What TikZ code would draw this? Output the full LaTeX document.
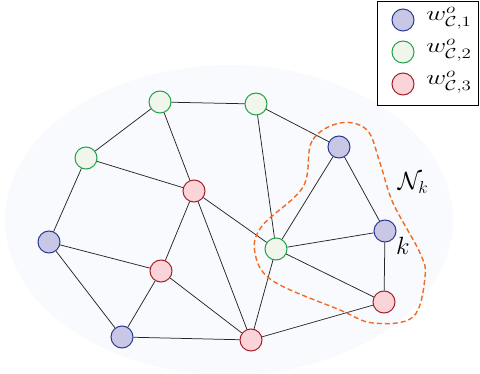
\documentclass[tikz,border=0pt]{standalone}
\usepackage{amsmath}
\definecolor{bgfill}{HTML}{F8FAFD}
\definecolor{bluefill}{HTML}{C8C8E6}
\definecolor{blueline}{HTML}{2B3990}
\definecolor{greenfill}{HTML}{F0F6EC}
\definecolor{greenline}{HTML}{22A04A}
\definecolor{redfill}{HTML}{FAD4D8}
\definecolor{redline}{HTML}{A31F2A}
\definecolor{nbhd}{HTML}{F26B21}
\begin{document}
\begin{tikzpicture}[x=1pt,y=-1pt,
  agent/.style={circle,minimum size=22pt,inner sep=0pt,line width=1pt},
  ablue/.style={agent,draw=blueline,fill=bluefill},
  agreen/.style={agent,draw=greenline,fill=greenfill},
  ared/.style={agent,draw=redline,fill=redfill},
  link/.style={line width=0.75pt,black!85},
  lbl/.style={font=\fontsize{25}{29}\selectfont,inner sep=0pt},
  leg/.style={font=\fontsize{21}{25}\selectfont,inner sep=0pt,
    anchor=base west,xscale=1.32}]
\useasboundingbox (0,0) rectangle (480,374);
% background region
\fill[bgfill] (229,220) ellipse [x radius=224pt, y radius=155pt];

% agents
\node[agreen] (g1) at (160,102) {};
\node[agreen] (g2) at (256,104) {};
\node[agreen] (g3) at (86,158) {};
\node[ared]   (r1) at (194,191) {};
\node[ablue]  (b1) at (49,242) {};
\node[ared]   (r2) at (161,271) {};
\node[ablue]  (b2) at (122,337) {};
\node[ared]   (r3) at (251,340) {};
\node[agreen] (g4) at (276,249) {};
\node[ablue]  (b3) at (339,147) {};
\node[ablue]  (b4) at (385,231) {};
\node[ared]   (r4) at (384,302) {};

% links
\foreach \a/\b in {g1/g2,g1/g3,g1/r1,g3/r1,g3/b1,b1/r2,b1/b2,r2/r1,r2/b2,r2/r3,
  r1/r3,r1/g4,g2/g4,g2/b3,b3/g4,b3/b4,g4/b4,g4/r4,b4/r4,g4/r3,r3/r4,b2/r3}
  \draw[link] (\a) -- (\b);

% neighbourhood of agent k
\draw[nbhd,line width=1.4pt,dash pattern=on 5pt off 3pt]
  plot[smooth cycle,tension=0.6] coordinates {
    (340,123) (312,141) (303,187) (262,226) (255,253) (273,281)
    (340,310) (373,323) (413,317) (425,277) (420,253) (393,203)
    (380,163) (367,130)};

\node[lbl] (nk) at (413,183) {$\mathcal{N}_k$};
\node[lbl] (kl) at (403,246) {$k$};

% legend
\draw[line width=0.8pt,fill=white] (377,1) rectangle (478,105);
\node[ablue]  (l1) at (403,20) {};
\node[agreen] (l2) at (403,52) {};
\node[ared]   (l3) at (403,84) {};
\node[leg] (t1) at (426,21) {$w^{o}_{\mathcal{C},1}$};
\node[leg] (t2) at (426,53) {$w^{o}_{\mathcal{C},2}$};
\node[leg] (t3) at (426,85) {$w^{o}_{\mathcal{C},3}$};
\end{tikzpicture}
\end{document}
